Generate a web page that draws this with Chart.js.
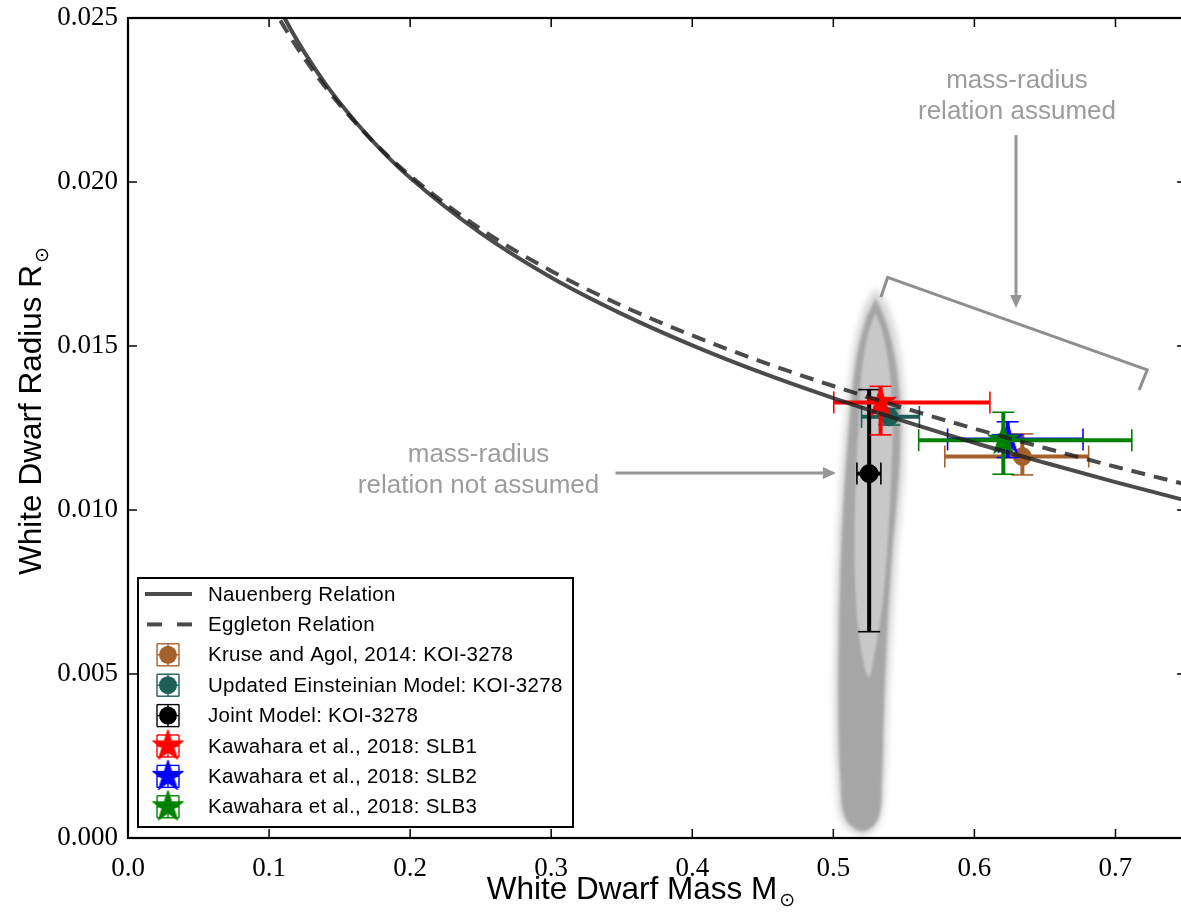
<!DOCTYPE html>
<html><head><meta charset="utf-8">
<script src="https://cdn.jsdelivr.net/npm/chart.js@4.4.1/dist/chart.umd.min.js"></script>
<style>html,body{margin:0;padding:0;background:#fff;overflow:hidden}#wrap{width:1181px;height:914px}</style>
</head><body><div id="wrap"><canvas id="c" width="1181" height="914"></canvas></div>
<script>
// ---------------- data ----------------
const massGrid   = [0.10,0.11,0.12,0.14,0.16,0.18,0.20,0.25,0.30,0.35,0.40,0.45,0.50,0.55,0.60,0.65,0.70,0.75];
const nauenbergR = [0.02594,0.02508,0.02431,0.02299,0.02190,0.02095,0.02013,0.01844,0.01709,0.01598,0.01502,0.01417,0.01341,0.01271,0.01205,0.01144,0.01085,0.01029];
const eggletonR  = [0.02554,0.02478,0.02409,0.02289,0.02187,0.02097,0.02019,0.01857,0.01729,0.01623,0.01532,0.01451,0.01378,0.01311,0.01248,0.01189,0.01132,0.01078];

const seriesNames = ['Kruse and Agol, 2014: KOI-3278','Updated Einsteinian Model: KOI-3278','Joint Model: KOI-3278',
                     'Kawahara et al., 2018: SLB1','Kawahara et al., 2018: SLB2','Kawahara et al., 2018: SLB3'];
const pointMass   = [0.6340, 0.5396, 0.5254, 0.5335, 0.6236, 0.6205];
const pointRad    = [0.01163,0.01284,0.01111,0.01328,0.01215,0.01213];
const massLow     = [0.5790, 0.5200, 0.5167, 0.5003, 0.5810, 0.5605];
const massHigh    = [0.6810, 0.5610, 0.5337, 0.6110, 0.6770, 0.7116];
const radLow      = [0.01107,0.01259,0.00629,0.01229,0.01160,0.01109];
const radHigh     = [0.01232,0.01309,0.01367,0.01377,0.01269,0.01298];
const seriesColors = ['#a5612b','#1d5e57','#000000','#ff0000','#0000ff','#008000'];
const seriesMarker = ['circle','circle','circle','star','star','star'];

// posterior sample cloud (outline)
const cloudHaloM = [0.5300,0.5390,0.5465,0.5505,0.5510,0.5490,0.5455,0.5420,0.5390,0.5370,0.5330,0.5210,0.5060,0.5020,0.5005,0.5010,0.5025,0.5045,0.5070,0.5100,0.5145,0.5215];
const cloudHaloR = [0.01680,0.01620,0.01500,0.01350,0.01200,0.01050,0.00880,0.00650,0.00400,0.00180,0.00050,0.00005,0.00050,0.00180,0.00400,0.00650,0.00880,0.01050,0.01200,0.01350,0.01500,0.01620];
const cloudOuterM = [0.5300,0.5360,0.5430,0.5470,0.5475,0.5455,0.5420,0.5385,0.5360,0.5345,0.5320,0.5210,0.5085,0.5050,0.5035,0.5040,0.5055,0.5075,0.5100,0.5130,0.5170,0.5235];
const cloudOuterR = [0.01645,0.01590,0.01480,0.01350,0.01200,0.01050,0.00880,0.00650,0.00400,0.00180,0.00060,0.00020,0.00060,0.00180,0.00400,0.00650,0.00880,0.01050,0.01200,0.01350,0.01480,0.01590];
const cloudCoreM = [0.5300,0.5350,0.5400,0.5420,0.5410,0.5385,0.5350,0.5300,0.5250,0.5195,0.5160,0.5150,0.5160,0.5180,0.5200,0.5245];
const cloudCoreR = [0.01600,0.01540,0.01420,0.01270,0.01100,0.00900,0.00720,0.00580,0.00490,0.00580,0.00720,0.00900,0.01100,0.01270,0.01420,0.01540];

// annotation bracket and arrows (data coordinates)
const bracketM = [0.5337,0.5385,0.7225,0.7168];
const bracketR = [0.01649,0.01709,0.01427,0.01366];
const noteLines = [['mass-radius','relation assumed'],['mass-radius','relation not assumed']];
const noteM = [0.6302, 0.2485];
const noteR = [0.02308, 0.01168];
const arrowFromM = [0.6295, 0.3456], arrowFromR = [0.02143, 0.01113];
const arrowToM   = [0.6295, 0.5018], arrowToR   = [0.01616, 0.01113];

const xTickStep = 0.1, yTickStep = 0.005;

// ---------------- helpers ----------------
const pts = (xs, ys) => xs.map((v, i) => ({x: v, y: ys[i]}));
function makeStar(color, R) {
  const s = Math.ceil(2 * R + 4);
  const c = document.createElement('canvas'); c.width = s; c.height = s;
  const g = c.getContext('2d');
  const cx = s / 2, cy = s / 2, r = R * 0.381966;
  g.beginPath();
  for (let k = 0; k < 10; k++) {
    const a = -Math.PI / 2 + k * Math.PI / 5, rr = k % 2 ? r : R;
    const px = cx + rr * Math.cos(a), py = cy + rr * Math.sin(a);
    k ? g.lineTo(px, py) : g.moveTo(px, py);
  }
  g.closePath(); g.fillStyle = color; g.fill();
  g.lineWidth = 1; g.strokeStyle = color; g.stroke();
  return c;
}
const starImgs = seriesColors.map(c => makeStar(c, 16.5));

// ---------------- datasets ----------------
const datasets = [];
datasets.push({type:'line', label:'cloud halo', data: pts(cloudHaloM, cloudHaloR), showLine:true, fill:'shape', blur: 3,
  backgroundColor:'rgba(170,170,170,0.45)', borderColor:'rgba(0,0,0,0)', borderWidth:0, pointRadius:0, tension:0.35, order:30});
datasets.push({type:'line', label:'cloud', data: pts(cloudOuterM, cloudOuterR), showLine:true, fill:'shape', blur: 1.5,
  backgroundColor:'rgba(140,140,140,0.66)', borderColor:'rgba(0,0,0,0)', borderWidth:0, pointRadius:0, tension:0.35, order:29});
datasets.push({type:'line', label:'cloud core', data: pts(cloudCoreM, cloudCoreR), showLine:true, fill:'shape', blur: 1.2,
  backgroundColor:'#c8c8c8', borderColor:'rgba(0,0,0,0)', borderWidth:0, pointRadius:0, tension:0.35, order:28});
for (let i = 0; i < seriesNames.length; i++) {
  datasets.push({type:'scatter', label: seriesNames[i], data:[{x: pointMass[i], y: pointRad[i]}], errIndex: i,
    pointStyle: seriesMarker[i] === 'star' ? starImgs[i] : 'circle', pointRadius: 9, pointHoverRadius: 9,
    backgroundColor: seriesColors[i], borderColor: seriesColors[i], borderWidth: 1, order: 20 - i});
}
datasets.push({type:'line', label:'Eggleton Relation', data: pts(massGrid, eggletonR), borderColor:'rgba(30,30,30,0.8)',
  borderWidth:4, borderDash:[14,9], pointRadius:0, fill:false, cubicInterpolationMode:'monotone', order:4});
datasets.push({type:'line', label:'Nauenberg Relation', data: pts(massGrid, nauenbergR), borderColor:'rgba(30,30,30,0.8)',
  borderWidth:4, pointRadius:0, fill:false, cubicInterpolationMode:'monotone', order:3});
datasets.push({type:'line', label:'bracket', data: pts(bracketM, bracketR), borderColor:'#8e8e8e', borderWidth:3,
  pointRadius:0, fill:false, tension:0, order:2});

// ---------------- plugins ----------------
function seg(ctx, x1, y1, x2, y2) { ctx.beginPath(); ctx.moveTo(x1, y1); ctx.lineTo(x2, y2); ctx.stroke(); }

// the reference plot area runs slightly past the right edge of the picture
const PLOT_RIGHT = 1186;
const areaPlugin = {
  id: 'area',
  afterLayout(chart) {
    const a = chart.chartArea, x = chart.scales.x;
    a.right = PLOT_RIGHT; a.width = a.right - a.left;
    x.right = PLOT_RIGHT; x.width = x.right - x.left;
    x.configure();
  }
};

// soft edges for the sample cloud: set a blur filter before each cloud layer is filled
const blurPlugin = {
  id: 'cloudblur',
  beforeDatasetsDraw(chart) {
    const metas = chart.getSortedVisibleDatasetMetas();
    const first = chart.data.datasets[metas[metas.length - 1].index];
    chart.ctx.filter = first.blur ? 'blur(' + first.blur + 'px)' : 'none';
  },
  afterDatasetDraw(chart, args) {
    const metas = chart.getSortedVisibleDatasetMetas();
    const pos = metas.findIndex(m => m.index === args.index);
    const next = pos > 0 ? chart.data.datasets[metas[pos - 1].index] : null;
    chart.ctx.filter = next && next.blur ? 'blur(' + next.blur + 'px)' : 'none';
  }
};

const errorBarPlugin = {
  id: 'errbars',
  beforeDatasetDraw(chart, args) {
    const ds = chart.data.datasets[args.index];
    if (ds.errIndex === undefined) return;
    const i = ds.errIndex, {ctx, scales:{x, y}} = chart;
    const cx = x.getPixelForValue(pointMass[i]), cy = y.getPixelForValue(pointRad[i]);
    const xl = x.getPixelForValue(massLow[i]), xh = x.getPixelForValue(massHigh[i]);
    const yl = y.getPixelForValue(radLow[i]), yh = y.getPixelForValue(radHigh[i]);
    ctx.save();
    ctx.filter = 'none';
    ctx.strokeStyle = seriesColors[i]; ctx.lineCap = 'butt';
    ctx.lineWidth = 4;
    seg(ctx, xl, cy, xh, cy); seg(ctx, cx, yl, cx, yh);
    ctx.lineWidth = 1.6; const c = 11;
    seg(ctx, xl, cy - c, xl, cy + c); seg(ctx, xh, cy - c, xh, cy + c);
    seg(ctx, cx - c, yl, cx + c, yl); seg(ctx, cx - c, yh, cx + c, yh);
    ctx.restore();
  }
};

function arrow(ctx, x1, y1, x2, y2) {
  const a = Math.atan2(y2 - y1, x2 - x1), L = 13, W = 6;
  const bx = x2 - L * Math.cos(a), by = y2 - L * Math.sin(a);
  seg(ctx, x1, y1, bx, by);
  ctx.beginPath(); ctx.moveTo(x2, y2);
  ctx.lineTo(bx + W * Math.sin(a), by - W * Math.cos(a));
  ctx.lineTo(bx - W * Math.sin(a), by + W * Math.cos(a));
  ctx.closePath(); ctx.fill();
}

const framePlugin = {
  id: 'frame',
  afterDatasetsDraw(chart) {
    const {ctx, chartArea: a, scales: {x, y}} = chart;
    ctx.save();
    ctx.filter = 'none';
    // annotations
    ctx.strokeStyle = '#959595'; ctx.fillStyle = '#959595'; ctx.lineWidth = 3;
    for (let k = 0; k < arrowFromM.length; k++) {
      arrow(ctx, x.getPixelForValue(arrowFromM[k]), y.getPixelForValue(arrowFromR[k]),
                 x.getPixelForValue(arrowToM[k]), y.getPixelForValue(arrowToR[k]));
    }
    ctx.fillStyle = '#9c9c9c'; ctx.font = '26px "Liberation Sans", Arial, sans-serif';
    ctx.textAlign = 'center'; ctx.textBaseline = 'middle';
    for (let k = 0; k < noteLines.length; k++) {
      const px = x.getPixelForValue(noteM[k]), py = y.getPixelForValue(noteR[k]);
      noteLines[k].forEach((t, j) => ctx.fillText(t, px, py + j * 31));
    }
    // inward ticks
    ctx.strokeStyle = '#000'; ctx.lineWidth = 1.5;
    x.ticks.forEach(t => { const p = x.getPixelForValue(t.value);
      seg(ctx, p, a.bottom, p, a.bottom - 9); seg(ctx, p, a.top, p, a.top + 9); });
    y.ticks.forEach(t => { const p = y.getPixelForValue(t.value);
      seg(ctx, a.left, p, a.left + 9, p); seg(ctx, a.right, p, a.right - 9, p); });
    ctx.lineWidth = 2.2;
    ctx.strokeRect(a.left, a.top, a.right - a.left, a.bottom - a.top);
    ctx.restore();
  },
  afterDraw(chart) {
    const ctx = chart.ctx;
    ctx.save();
    ctx.filter = 'none';
    // axis titles
    const title = (main, sub, cx, cy, rot) => {
      ctx.save(); ctx.translate(cx, cy); ctx.rotate(rot);
      const mf = '31.5px "Liberation Sans", Arial, sans-serif', sf = '19px "DejaVu Sans", sans-serif';
      ctx.font = mf; const w1 = ctx.measureText(main).width;
      ctx.font = sf; const w2 = ctx.measureText(sub).width;
      const tot = w1 + 2 + w2;
      ctx.fillStyle = '#000'; ctx.textAlign = 'left'; ctx.textBaseline = 'alphabetic';
      ctx.font = mf; ctx.fillText(main, -tot / 2, 11);
      ctx.font = sf; ctx.fillText(sub, -tot / 2 + w1 + 2, 18);
      ctx.restore();
    };
    title('White Dwarf Mass M', '\u2299', 641, 888, 0);
    title('White Dwarf Radius R', '\u2299', 30, 411, -Math.PI / 2);

    // legend
    const L = 138, T = 578, W = 435, H = 249;
    ctx.fillStyle = '#fff'; ctx.fillRect(L, T, W, H);
    ctx.strokeStyle = '#000'; ctx.lineWidth = 2; ctx.strokeRect(L, T, W, H);
    const rowY = k => 594 + k * 30.4, mx = 168;
    const labels = ['Nauenberg Relation', 'Eggleton Relation'].concat(seriesNames);
    ctx.strokeStyle = 'rgba(30,30,30,0.8)'; ctx.lineWidth = 4;
    seg(ctx, 145, rowY(0), 192, rowY(0));
    seg(ctx, 147, rowY(1), 162, rowY(1)); seg(ctx, 177, rowY(1), 192, rowY(1));
    for (let i = 0; i < seriesNames.length; i++) {
      const yy = rowY(i + 2), col = seriesColors[i];
      ctx.strokeStyle = col; ctx.lineWidth = 1.4; const c = 11;
      seg(ctx, mx - c, yy, mx + c, yy); seg(ctx, mx, yy - c, mx, yy + c);
      seg(ctx, mx - c, yy - c, mx - c, yy + c); seg(ctx, mx + c, yy - c, mx + c, yy + c);
      seg(ctx, mx - c, yy - c, mx + c, yy - c); seg(ctx, mx - c, yy + c, mx + c, yy + c);
      if (seriesMarker[i] === 'star') {
        const img = starImgs[i]; ctx.drawImage(img, mx - img.width / 2, yy - img.height / 2);
      } else {
        ctx.fillStyle = col; ctx.beginPath(); ctx.arc(mx, yy, 9, 0, Math.PI * 2); ctx.fill();
      }
    }
    ctx.fillStyle = '#000';
    ctx.font = '20.5px "Liberation Sans", Arial, sans-serif';
    ctx.textAlign = 'left'; ctx.textBaseline = 'middle';
    try { ctx.letterSpacing = '0.3px'; } catch (e) {}
    labels.forEach((t, k) => ctx.fillText(t, 208, rowY(k) + 1));
    ctx.restore();
  }
};

// ---------------- chart ----------------
new Chart(document.getElementById('c'), {
  type: 'scatter',
  data: { datasets },
  options: {
    responsive: false, animation: false, devicePixelRatio: 1,
    layout: { padding: { top: 18, right: 0, left: 0, bottom: 0 } },
    plugins: { legend: { display: false }, tooltip: { enabled: false } },
    scales: {
      x: { type: 'linear', min: 0, max: 0.75, position: 'bottom',
        ticks: { stepSize: xTickStep, includeBounds: false, padding: 15, autoSkip: false, maxRotation: 0,
          color: '#000', font: { family: '"Liberation Serif", "DejaVu Serif", serif', size: 27 },
          callback: v => Number(v).toFixed(1) },
        grid: { display: false, drawTicks: false }, border: { display: false },
        afterFit: s => { s.height = 76; s.paddingLeft = 0; s.paddingRight = 0; } },
      y: { type: 'linear', min: 0, max: 0.025, position: 'left',
        ticks: { stepSize: yTickStep, includeBounds: false, padding: 10, autoSkip: false,
          color: '#000', font: { family: '"Liberation Serif", "DejaVu Serif", serif', size: 27 },
          callback: v => Number(v).toFixed(3) },
        grid: { display: false, drawTicks: false }, border: { display: false },
        afterFit: s => { s.width = 128; s.paddingTop = 0; s.paddingBottom = 0; } }
    }
  },
  plugins: [areaPlugin, blurPlugin, errorBarPlugin, framePlugin]
});
</script></body></html>
